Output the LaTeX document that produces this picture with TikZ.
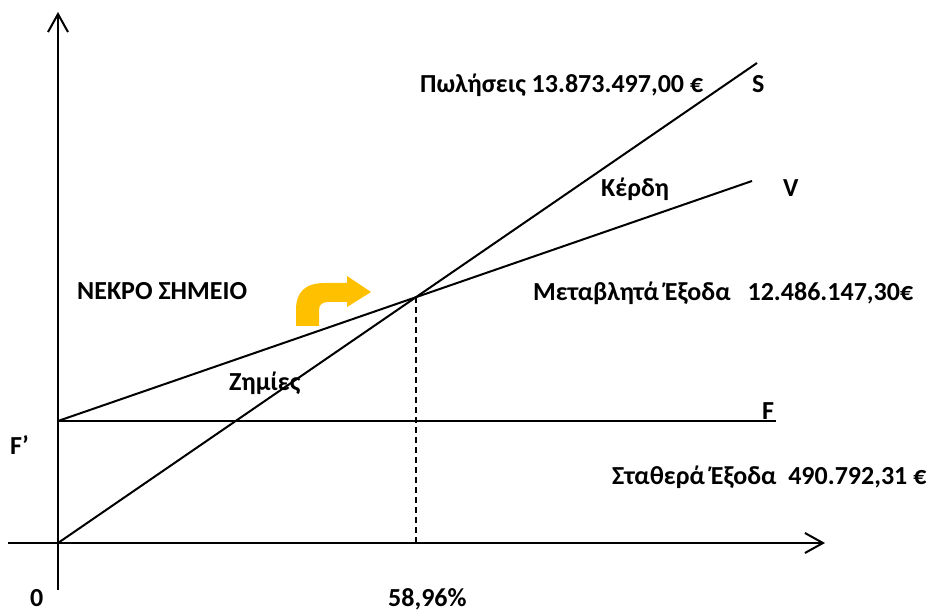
\documentclass[tikz,border=0pt]{standalone}
\usepackage{fontspec}
\setmainfont{Carlito}
\usetikzlibrary{arrows.meta}
\begin{document}
\begin{tikzpicture}[x=1pt,y=-1pt,
  axis/.style={line width=2pt,-{Straight Barb[length=18pt,width=20pt,line width=2pt]}},
  ln/.style={line width=2pt},
  lbl/.style={anchor=base west,inner sep=0pt,font=\fontsize{26}{30}\selectfont\bfseries}]
\useasboundingbox (0,0) rectangle (937,612);
\coordinate (ybot) at (58,590);
\coordinate (ytop) at (58,12);
\coordinate (xleft) at (8,543);
\coordinate (xright) at (825,543);
\coordinate (O) at (58,543);
\coordinate (Fp) at (58,421);
\coordinate (Fend) at (776,421);
\coordinate (Send) at (757,63);
\coordinate (Vend) at (752,181);
\coordinate (BE) at (416,297);
\coordinate (BEx) at (416,543);
\draw[axis] (ybot) -- (ytop);
\draw[axis] (xleft) -- (xright);
\draw[ln] (Fp) -- (Fend);
\draw[ln] (O) -- (Send);
\draw[ln] (Fp) -- (Vend);
\draw[ln,dash pattern=on 6pt off 4pt] (BE) -- (BEx);
\fill[fill={rgb,255:red,255;green,192;blue,0}] (296,326) -- (296,310) .. controls (296,292) and (305,283) .. (325,283) -- (347,283) -- (347,276) -- (371,292) -- (347,307) -- (347,302) -- (328,302) .. controls (322,302) and (319,305) .. (319,310) -- (319,326) -- cycle;
\node[lbl] (sales) at (420,93) {Πωλήσεις 13.873.497,00 €};
\node[lbl] (S) at (752,93) {S};
\node[lbl] (profit) at (601,197) {Κέρδη};
\node[lbl] (V) at (783,197) {V};
\node[lbl] (bep) at (77,300) {ΝΕΚΡΟ ΣΗΜΕΙΟ};
\node[lbl] (var) at (533,301) {Μεταβλητά Έξοδα\hspace{17pt}12.486.147,30€};
\node[lbl] (loss) at (229,390) {Ζημίες};
\node[lbl] (F) at (762,419) {F};
\node[lbl] (Fprime) at (10,454) {F’};
\node[lbl] (fixed) at (612,484) {Σταθερά Έξοδα\ \ 490.792,31 €};
\node[lbl] (zero) at (30,606) {0};
\node[lbl] (pct) at (388,606) {58,96\%};
\end{tikzpicture}
\end{document}
